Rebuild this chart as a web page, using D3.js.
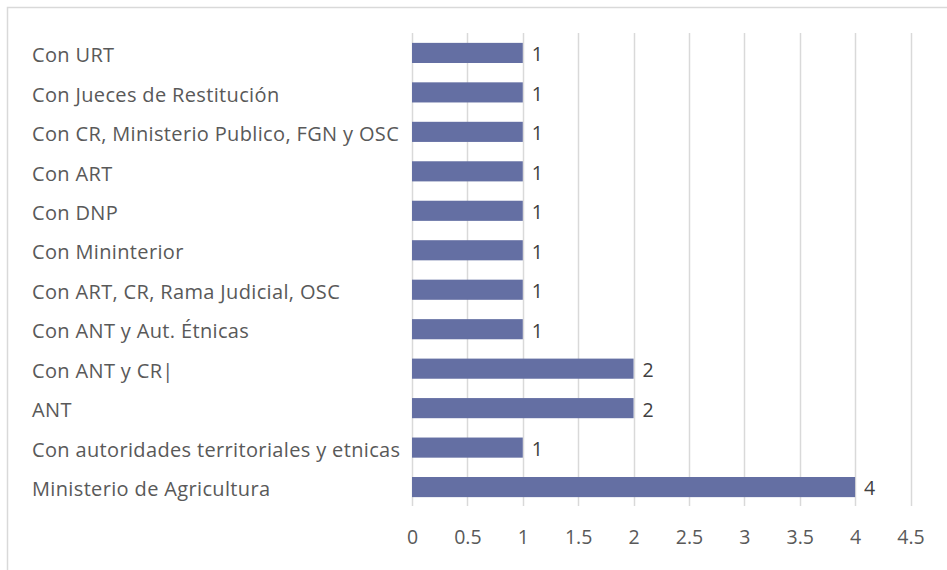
<!DOCTYPE html>
<html><head><meta charset="utf-8">
<script src="https://cdn.jsdelivr.net/npm/d3@7"></script>
<style>body{margin:0;background:#fff;} svg{display:block;font-family:"Open Sans","Noto Sans",sans-serif;}</style>
</head><body>
<svg id="c" width="947" height="570"></svg>
<script>
const categories = ["Con URT","Con Jueces de Restitución","Con CR, Ministerio Publico, FGN y OSC","Con ART","Con DNP","Con Mininterior","Con ART, CR, Rama Judicial, OSC","Con ANT y Aut. Étnicas","Con ANT y CR|","ANT","Con autoridades territoriales y etnicas","Ministerio de Agricultura"];
const values = [1,1,1,1,1,1,1,1,2,2,1,4];
const ticks = [0,0.5,1,1.5,2,2.5,3,3.5,4,4.5];

const svg = d3.select("#c");
svg.append("rect").attr("x",7.5).attr("y",7.5).attr("width",960).attr("height",600)
  .attr("fill","none").attr("stroke","#d9d9d9").attr("stroke-width",1.5);

const x = d3.scaleLinear().domain([0,4.5]).range([412,910.5]);
const y = d3.scaleBand().domain(categories).range([33,507]).paddingInner(0.49).paddingOuter(0.25);

const g = svg.append("g");
g.selectAll("line.grid").data(ticks).join("line").attr("class","grid")
  .attr("x1",d=>Math.round(x(d))+0.5).attr("x2",d=>Math.round(x(d))+0.5)
  .attr("y1",33).attr("y2",506).attr("stroke","#d9d9d9").attr("stroke-width",1.5);

const axis = d3.axisBottom(x).tickValues(ticks).tickSize(0).tickPadding(0).tickFormat(d=>String(d));
const ax = svg.append("g").attr("transform","translate(0,544)").call(axis);
ax.select(".domain").remove();
ax.selectAll("text").attr("fill","#595959").attr("font-size","19.5px").attr("y",0).attr("dy","0")
  .style("font-family","'Open Sans','Noto Sans',sans-serif");

g.selectAll("rect.bar").data(values).join("rect").attr("class","bar")
  .attr("x",x(0)).attr("y",(d,i)=>y(categories[i]))
  .attr("width",d=>x(d)-x(0)).attr("height",y.bandwidth())
  .attr("fill","#646fa3");

g.selectAll("text.val").data(values).join("text").attr("class","val")
  .attr("x",d=>x(d)+9).attr("y",(d,i)=>y(categories[i])+y.bandwidth()/2)
  .attr("dy","0.43em").attr("fill","#404040").attr("font-size","19.5px").text(d=>d);

g.selectAll("text.cat").data(categories).join("text").attr("class","cat")
  .attr("x",32).attr("y",d=>y(d)+y.bandwidth()/2).attr("dy","0.46em")
  .attr("fill","#595959").attr("font-size","20px").attr("letter-spacing","0.35px").text(d=>d);
</script>
</body></html>
